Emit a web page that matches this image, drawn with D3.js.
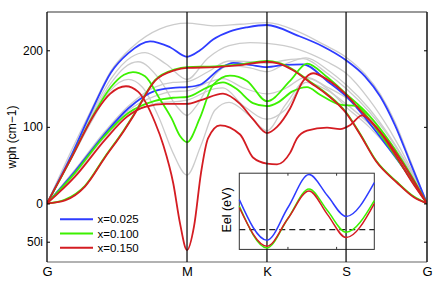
<!DOCTYPE html>
<html><head><meta charset="utf-8">
<script src="https://cdn.jsdelivr.net/npm/d3@7"></script>
<style>body{margin:0;background:#fff;} text{font-family:"Liberation Sans",Arial,sans-serif;fill:#000;}</style>
</head><body><svg id="c" width="436" height="281"></svg>
<script>
// ---- data ----
const kLabels = ["G","M","K","S","G"];
const kPos = [0, 1, 1.571, 2.136, 2.714];
const yTicks = [-50, 0, 100, 200];
const yTickLabels = ["50i","0","100","200"];
const seriesNames = ["x=0.025","x=0.100","x=0.150"];
const seriesColors = ["#2e3cff","#3cf000","#d41c22"];

const grayTop = [[0,0],[0.2,79],[0.321,124],[0.457,173],[0.614,205],[0.807,228],[1.0,235.5],[1.186,232],[1.379,234],[1.571,236],[1.786,225],[1.971,208],[2.136,191],[2.271,169],[2.379,143],[2.486,106],[2.593,57],[2.714,0]];
const gray1a = [[0,0],[0.164,58],[0.321,118],[0.457,163],[0.6,191],[0.7,197],[0.85,182],[1.0,162],[1.15,190],[1.3,206],[1.45,210],[1.571,209],[1.8,201],[2.0,185],[2.136,170],[2.3,136],[2.45,95],[2.6,45],[2.714,0]];
const gray1b = [[0,0],[0.164,57],[0.321,115],[0.457,157],[0.55,177],[0.65,185],[0.8,163],[0.93,126],[1.0,115],[1.07,128],[1.2,168],[1.3,180],[1.45,177],[1.571,172],[1.7,182],[1.85,190],[2.0,175],[2.136,155],[2.3,124],[2.45,87],[2.6,42],[2.714,0]];
const gray1c = [[0,0],[0.164,55],[0.321,108],[0.45,147],[0.58,162],[0.68,152],[0.8,112],[0.9,66],[1.0,37],[1.1,76],[1.2,122],[1.3,132],[1.45,114],[1.571,95],[1.7,128],[1.87,163],[2.0,150],[2.136,126],[2.3,100],[2.45,70],[2.6,33],[2.714,0]];
const gray2a = [[0,0],[0.2,44],[0.4,91],[0.58,127],[0.771,152],[0.9,158],[1.0,159],[1.15,172],[1.3,186],[1.45,185],[1.571,183],[1.7,187],[1.829,189],[2.0,170],[2.136,150],[2.3,120],[2.45,85],[2.6,40],[2.714,0]];
const gray2b = [[0,0],[0.2,41],[0.4,87],[0.58,121],[0.771,140],[0.9,146],[1.0,147],[1.15,158],[1.257,163],[1.4,151],[1.571,143],[1.7,150],[1.85,165],[2.0,152],[2.136,138],[2.3,112],[2.45,80],[2.6,38],[2.714,0]];
const gray2c = [[0,0],[0.2,38],[0.4,84],[0.58,115],[0.771,130],[1.0,135],[1.2,150],[1.257,151],[1.4,128],[1.571,110],[1.7,122],[1.85,158],[2.0,148],[2.136,130],[2.3,104],[2.45,74],[2.6,35],[2.714,0]];

const blue1 = [[0,0],[0.164,59],[0.321,121.6],[0.457,171],[0.579,196],[0.736,211.7],[0.879,204],[1.0,191.5],[1.093,200],[1.186,214],[1.307,224.7],[1.429,230],[1.571,233],[1.786,219.5],[1.971,205],[2.136,187],[2.271,166],[2.379,140],[2.486,102],[2.593,54],[2.714,0]];
const blue2 = [[0,0],[0.2,42],[0.4,88],[0.58,124],[0.771,147],[0.9,151],[1.0,152],[1.093,155],[1.236,176],[1.33,183.5],[1.45,181],[1.571,178],[1.7,181],[1.829,181.7],[2.0,160],[2.136,140],[2.236,120],[2.4,82],[2.55,45],[2.714,0]];
const green1 = [[0,0],[0.164,56],[0.321,112],[0.457,152],[0.55,168],[0.614,171.5],[0.7,166],[0.807,136],[0.89,111],[0.95,88],[1.0,80],[1.093,112],[1.186,155],[1.307,167],[1.429,160],[1.571,133.5],[1.736,160],[1.857,182.6],[2.0,165],[2.136,143],[2.3,115],[2.45,80],[2.6,37],[2.714,0]];
const green2 = [[0,0],[0.2,40],[0.4,86],[0.58,118],[0.771,134],[0.9,138],[1.0,139],[1.15,152],[1.257,158],[1.35,150],[1.471,131],[1.571,127],[1.65,132],[1.75,146],[1.857,152],[1.95,142],[2.093,129],[2.214,127],[2.3,110],[2.4,85],[2.55,45],[2.714,0]];
const greenTA = [[0,0],[0.129,5],[0.271,23],[0.414,61],[0.55,96],[0.63,119],[0.771,161],[0.914,175],[1.0,178],[1.2,179],[1.4,182],[1.571,186],[1.65,184],[1.757,175],[1.879,159],[2.0,143],[2.136,119],[2.236,91],[2.35,56],[2.5,28],[2.62,9],[2.714,0]];
const red1 = [[0,0],[0.164,56],[0.355,121],[0.45,143],[0.564,153],[0.65,146],[0.771,106],[0.831,76],[0.902,26],[0.95,-26],[1.0,-61],[1.05,-30],[1.1,40],[1.15,85],[1.236,102],[1.379,90],[1.471,60],[1.571,52],[1.643,51],[1.736,66],[1.786,85],[1.857,95],[2.0,99],[2.093,97],[2.164,102],[2.25,115],[2.35,100],[2.5,60],[2.6,30],[2.714,0]];
const red2 = [[0,0],[0.2,35],[0.414,83],[0.57,113],[0.7,126],[0.85,130],[1.0,130],[1.1,135],[1.257,143.5],[1.379,130],[1.471,110],[1.571,92],[1.643,100],[1.736,124],[1.829,160],[1.9,170],[2.0,162],[2.136,142],[2.236,122],[2.426,83],[2.55,50],[2.714,0]];
const redTA = [[0,0],[0.129,4],[0.271,22],[0.414,60],[0.55,95],[0.63,118],[0.771,160],[0.914,174],[1.0,177],[1.2,178],[1.4,181],[1.571,185],[1.65,183],[1.757,174],[1.879,158],[2.0,142],[2.136,118],[2.236,90],[2.35,55],[2.5,27],[2.62,8],[2.714,0]];

// inset (electronic bands)
const insetX = [0, 0.57, 1.0, 1.434, 1.81, 2.195, 2.775];
const insetBlue = [0.394, -0.139, 0.29, 0.722, 0.447, 0.172, 0.617];
const insetGreen = [0.31, -0.24, 0.146, 0.533, 0.25, -0.034, 0.381];
const insetRed = [0.29, -0.218, 0.145, 0.507, 0.2, -0.104, 0.342];
const insetTicks = [1, 2];

// ---- drawing ----
const svg = d3.select("#c");
const L = 47, R = 427, T = 12, B = 262;
const x = d3.scaleLinear().domain([0, 2.714]).range([L, R]);
const y = d3.scaleLinear().domain([-76.5, 250]).range([B, T]);

svg.append("defs").append("clipPath").attr("id","clip")
  .append("rect").attr("x",L).attr("y",T).attr("width",R-L).attr("height",B-T);

const line = d3.line().x(d=>x(d[0])).y(d=>y(d[1])).curve(d3.curveMonotoneX);
const g = svg.append("g").attr("clip-path","url(#clip)");

[grayTop, gray1a, gray1b, gray1c, gray2a, gray2b, gray2c].forEach(b=>{
  g.append("path").attr("d",line(b)).attr("fill","none").attr("stroke","#cccccc").attr("stroke-width",1.3);
});
[blue1, blue2].forEach(b=>g.append("path").attr("d",line(b)).attr("fill","none").attr("stroke",seriesColors[0]).attr("stroke-width",1.8));
[green1, green2, greenTA].forEach(b=>g.append("path").attr("d",line(b)).attr("fill","none").attr("stroke",seriesColors[1]).attr("stroke-width",1.8));
[red1, red2, redTA].forEach(b=>g.append("path").attr("d",line(b)).attr("fill","none").attr("stroke",seriesColors[2]).attr("stroke-width",1.8));

// frame
svg.append("line").attr("x1",L).attr("x2",R).attr("y1",T).attr("y2",T).attr("stroke","#777").attr("stroke-width",1.6);
svg.append("line").attr("x1",L).attr("x2",R).attr("y1",B).attr("y2",B).attr("stroke","#999").attr("stroke-width",1.6);
svg.append("line").attr("x1",L).attr("x2",L).attr("y1",T).attr("y2",B).attr("stroke","#000").attr("stroke-width",1.3);
svg.append("line").attr("x1",R).attr("x2",R).attr("y1",T).attr("y2",B).attr("stroke","#222").attr("stroke-width",1.6);

// y axis
const yAxis = d3.axisLeft(y).tickValues(yTicks).tickFormat((d,i)=>yTickLabels[i]).tickSize(-3).tickPadding(4);
const ya = svg.append("g").attr("transform",`translate(${L},0)`).call(yAxis);
ya.select(".domain").remove();
ya.selectAll("text").style("font-size","12px").style("font-family","'Liberation Sans',Arial,sans-serif");
ya.selectAll("line").attr("stroke","#000");
const yAxisR = d3.axisRight(y).tickValues(yTicks).tickFormat("").tickSize(-3);
const yr = svg.append("g").attr("transform",`translate(${R},0)`).call(yAxisR);
yr.select(".domain").remove();
yr.selectAll("line").attr("stroke","#000");

// x axis labels
const xAxis = d3.axisBottom(x).tickValues(kPos).tickFormat((d,i)=>kLabels[i]).tickSize(0).tickPadding(5);
const xa = svg.append("g").attr("transform",`translate(0,${B})`).call(xAxis);
xa.select(".domain").remove();
xa.selectAll("text").style("font-size","13px").style("font-family","'Liberation Sans',Arial,sans-serif");

svg.append("text").attr("transform",`translate(16,137) rotate(-90)`).attr("text-anchor","middle")
  .style("font-size","12px").text("wph (cm\u22121)");

// inset
const IL = 239.3, IR = 374.3, IT = 173.2, IB = 249.4;
const ix = d3.scaleLinear().domain([0, 2.775]).range([IL, IR]);
const iy = d3.scaleLinear().domain([-0.26, 0.74]).range([IB, IT]);
svg.append("rect").attr("x",IL).attr("y",IT).attr("width",IR-IL).attr("height",IB-IT).attr("fill","#fff").attr("stroke","#333").attr("stroke-width",1);
insetTicks.forEach(t=>{
  svg.append("line").attr("x1",ix(t)).attr("x2",ix(t)).attr("y1",IT).attr("y2",IT+2.5).attr("stroke","#333");
  svg.append("line").attr("x1",ix(t)).attr("x2",ix(t)).attr("y1",IB).attr("y2",IB-2.5).attr("stroke","#333");
});
svg.append("line").attr("x1",IL).attr("x2",IR).attr("y1",iy(0)).attr("y2",iy(0)).attr("stroke","#222").attr("stroke-width",1.2).attr("stroke-dasharray","6,4");

// symmetry-point vertical lines
kPos.slice(1,4).forEach(k=>{
  svg.append("line").attr("x1",x(k)).attr("x2",x(k)).attr("y1",T).attr("y2",B).attr("stroke","#111").attr("stroke-width",1.3);
});

const iline = d3.line().x(d=>ix(d[0])).y(d=>iy(d[1])).curve(d3.curveMonotoneX);
[[insetBlue,0],[insetGreen,1],[insetRed,2]].forEach(([vals,ci])=>{
  svg.append("path").attr("d",iline(insetX.map((xv,i)=>[xv,vals[i]]))).attr("fill","none").attr("stroke",seriesColors[ci]).attr("stroke-width",1.5);
});
svg.append("text").attr("transform",`translate(231,210) rotate(-90)`).attr("text-anchor","middle")
  .style("font-size","12.5px").text("Eel (eV)");

// legend
const legY = [219.3, 233.5, 247.7];
seriesNames.forEach((n,i)=>{
  svg.append("line").attr("x1",60).attr("x2",93).attr("y1",legY[i]).attr("y2",legY[i]).attr("stroke",seriesColors[i]).attr("stroke-width",2);
  svg.append("text").attr("x",97.5).attr("y",legY[i]).attr("dy","0.36em").style("font-size","11.5px").text(n);
});
</script></body></html>
